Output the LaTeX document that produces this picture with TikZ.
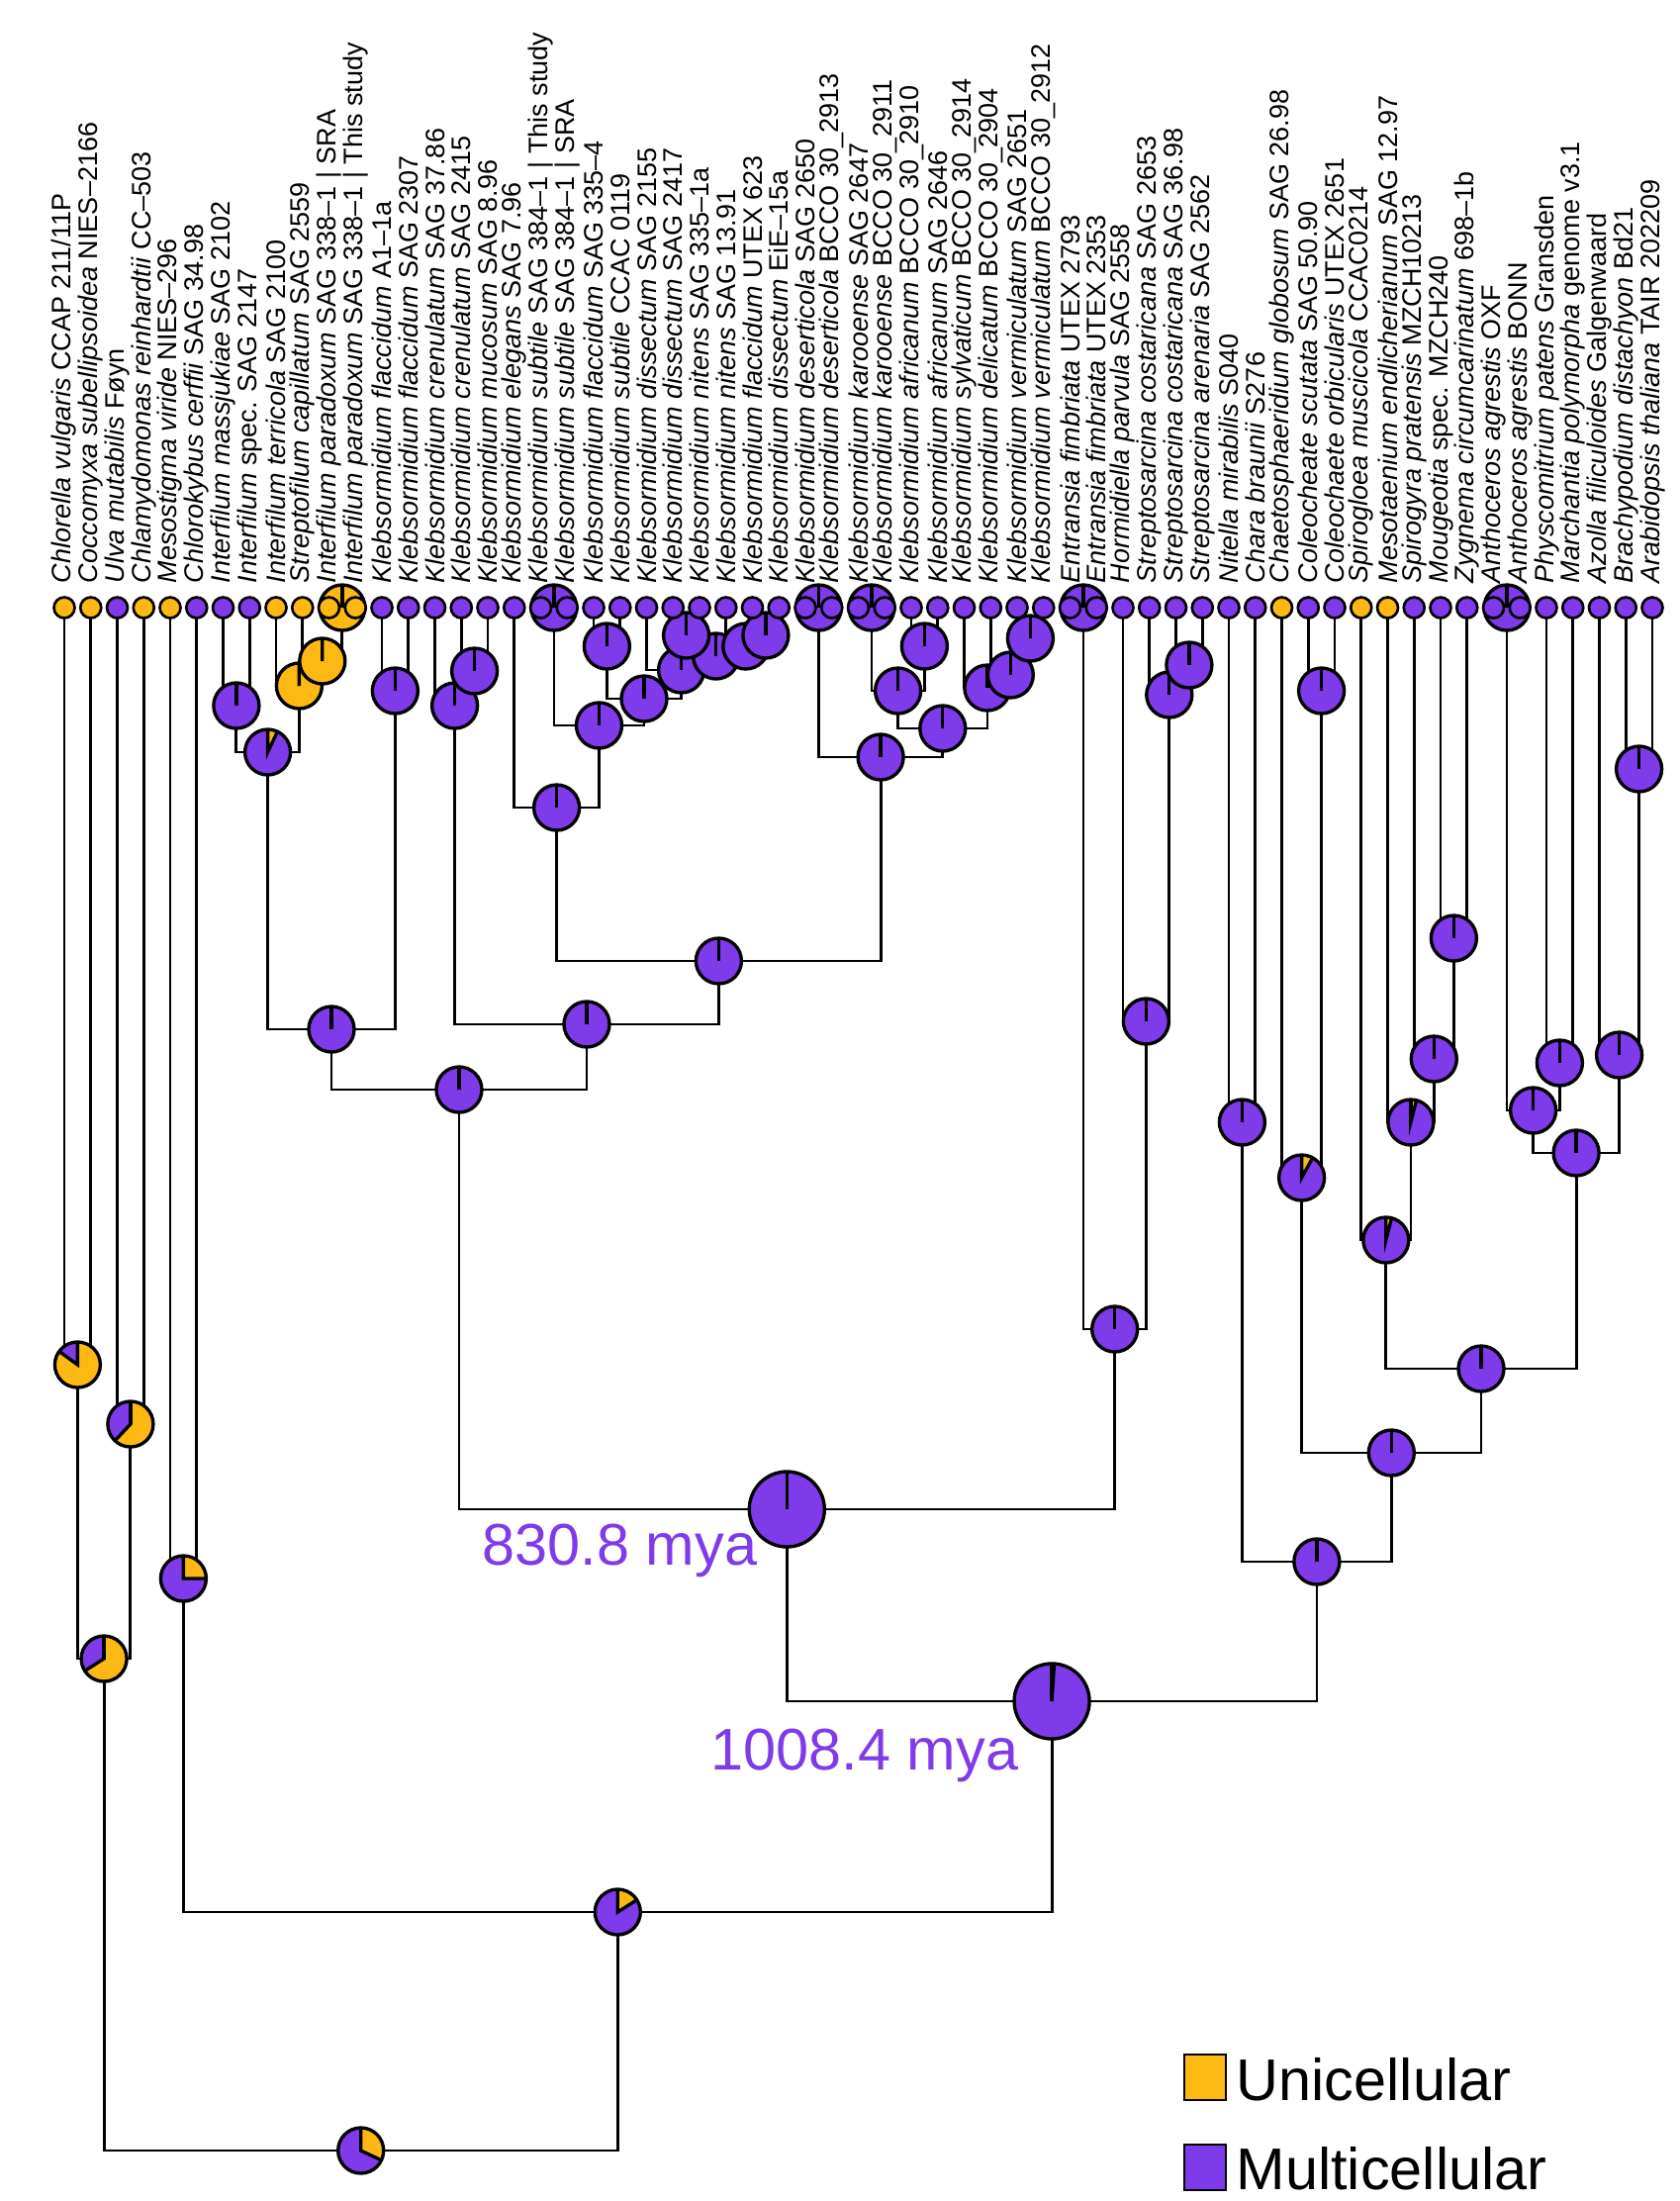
\documentclass[tikz,border=0pt]{standalone}
\usepackage{fontspec}
\setmainfont{Liberation Sans}
\usetikzlibrary{backgrounds}
\definecolor{uni}{RGB}{253,185,19}
\definecolor{multi}{RGB}{127,58,234}
\tikzstyle{tip}=[circle,draw,line width=0.75pt,minimum size=0.21cm,inner sep=0pt]
\tikzstyle{branch}=[draw,line width=0.8pt]
\tikzstyle{taxon}=[font=\fontsize{7.68pt}{9pt}\selectfont,rotate=90,anchor=west,inner sep=0pt]
\tikzstyle{age}=[font=\fontsize{16.9pt}{20pt}\selectfont,text=multi,inner sep=0pt]
\tikzstyle{legendkey}=[draw,line width=0.6pt,minimum width=0.42cm,minimum height=0.46cm,inner sep=0pt]
\tikzstyle{legendtext}=[font=\fontsize{16.9pt}{20pt}\selectfont,inner sep=0pt]
% yellow share of a pie, drawn clockwise from the top
\newcommand{\pieslice}[1]{%
  \ifdim#1pt>0pt
    \fill[uni,draw=black,line width=0.95pt] (path picture bounding box.center) -- ++(90:1cm)
      arc[start angle=90,delta angle={-360*#1},radius=1cm] -- cycle;
  \fi
  \draw[line width=0.95pt] (path picture bounding box.center) -- ++(90:1cm);
}
\tikzset{pie/.style={circle,draw,line width=0.95pt,fill=multi,minimum size=0.46cm,inner sep=0pt,path picture={\pieslice{#1}}}}

\begin{document}
\begin{tikzpicture}[x=0.01cm,y=0.01cm]

    \useasboundingbox (0,0) rectangle (1698,-2224);

    % ancestral states
    \node[pie=0.01, minimum size=0.76cm] (n1008) at (1063.1,-1719) {};
    \node[pie=0, minimum size=0.76cm] (n830) at (795.3,-1525) {};

    \foreach \name/\x/\y/\f in {root/364.7/2173/0.32, nD/105.1/1676/0.66, nA/78.4/1379/0.85, nB/131.9/1439/0.62,
        nX/624.3/1932/0.16, nC/185.4/1595/0.25,
        nKI/464/1101/0, nI/335/1040/0, nI1/270.6/760/0.07, nI78/238.9/713/0, nI9/302.4/693/1, nI10/325.8/668/1,
        nP1112/345.9/614/1, nK1314/399.4/698/0,
        nK/593/1035/0, nK15/459.6/713/0, nK1617/479.6/678/0, nKB/726.4/971/0, nK18/562.6/816/0, nK19/605.5/733/0,
        nP1920/559.9/614/0, nKE/651/706/0, nK2122/613.4/653/0, nKE2/688.6/677/0, nKE3/723.7/663/0,
        nK2425/693.6/642/0, nKE4/753.8/653/0, nK2728/773.9/642/0,
        nKC/890.1/765/0, nP2930/827.4/614/0, nKD/952.8/736/0, nKD1/907.6/698/0, nP3132/880.9/614/0,
        nK3334/934.4/653/0, nKD2/997.9/695/0, nKD3/1021.3/682/0, nK3738/1041.4/645/0,
        nEH/1126.7/1343/0, nP3940/1094.9/614/0, nH/1158.4/1032/0, nS/1181.8/702/0, nS4344/1201.9/672/0,
        nPh/1330.9/1578/0, nCh/1255.4/1134/0, nCZ/1406.3/1468/0, nCol/1315.6/1190/0.08, nCol4849/1335.6/698/0,
        nZL/1497/1383/0, nZ/1400.8/1253/0.04, nZ2/1425.9/1134/0.04, nZ3/1449.3/1070/0, nZ5354/1469.4/948/0,
        nLand/1593.1/1165/0, nL1/1549.6/1122/0, nP5556/1522.9/614/0, nL5758/1576.4/1074/0,
        nL2/1636.6/1066/0, nL6061/1656.6/777/0}
        \node[pie=\f] (\name) at (\x,-\y) {};

    % tips and their labels
    \foreach \i/\c/\lab in {
        1/uni/{\textit{Chlorella vulgaris} CCAP 211/11P},
        2/uni/{\textit{Coccomyxa subellipsoidea} NIES–2166},
        3/multi/{\textit{Ulva mutabilis} Føyn},
        4/uni/{\textit{Chlamydomonas reinhardtii} CC–503},
        5/uni/{\textit{Mesostigma viride} NIES–296},
        6/multi/{\textit{Chlorokybus cerffii} SAG 34.98},
        7/multi/{\textit{Interfilum massjukiae} SAG 2102},
        8/multi/{\textit{Interfilum} spec. SAG 2147},
        9/uni/{\textit{Interfilum terricola} SAG 2100},
        10/uni/{\textit{Streptofilum capillatum} SAG 2559},
        11/uni/{\textit{Interfilum paradoxum} SAG 338–1 | SRA},
        12/uni/{\textit{Interfilum paradoxum} SAG 338–1 | This study},
        13/multi/{\textit{Klebsormidium flaccidum} A1–1a},
        14/multi/{\textit{Klebsormidium flaccidum} SAG 2307},
        15/multi/{\textit{Klebsormidium crenulatum} SAG 37.86},
        16/multi/{\textit{Klebsormidium crenulatum} SAG 2415},
        17/multi/{\textit{Klebsormidium mucosum} SAG 8.96},
        18/multi/{\textit{Klebsormidium elegans} SAG 7.96},
        19/multi/{\textit{Klebsormidium subtile} SAG 384–1 | This study},
        20/multi/{\textit{Klebsormidium subtile} SAG 384–1 | SRA},
        21/multi/{\textit{Klebsormidium flaccidum} SAG 335–4},
        22/multi/{\textit{Klebsormidium subtile} CCAC 0119},
        23/multi/{\textit{Klebsormidium dissectum} SAG 2155},
        24/multi/{\textit{Klebsormidium dissectum} SAG 2417},
        25/multi/{\textit{Klebsormidium nitens} SAG 335–1a},
        26/multi/{\textit{Klebsormidium nitens} SAG 13.91},
        27/multi/{\textit{Klebsormidium flaccidum} UTEX 623},
        28/multi/{\textit{Klebsormidium dissectum} EiE–15a},
        29/multi/{\textit{Klebsormidium deserticola} SAG 2650},
        30/multi/{\textit{Klebsormidium deserticola} BCCO 30\_2913},
        31/multi/{\textit{Klebsormidium karooense} SAG 2647},
        32/multi/{\textit{Klebsormidium karooense} BCCO 30\_2911},
        33/multi/{\textit{Klebsormidium africanum} BCCO 30\_2910},
        34/multi/{\textit{Klebsormidium africanum} SAG 2646},
        35/multi/{\textit{Klebsormidium sylvaticum} BCCO 30\_2914},
        36/multi/{\textit{Klebsormidium delicatum} BCCO 30\_2904},
        37/multi/{\textit{Klebsormidium vermiculatum} SAG 2651},
        38/multi/{\textit{Klebsormidium vermiculatum} BCCO 30\_2912},
        39/multi/{\textit{Entransia fimbriata} UTEX 2793},
        40/multi/{\textit{Entransia fimbriata} UTEX 2353},
        41/multi/{\textit{Hormidiella parvula} SAG 2558},
        42/multi/{\textit{Streptosarcina costaricana} SAG 2653},
        43/multi/{\textit{Streptosarcina costaricana} SAG 36.98},
        44/multi/{\textit{Streptosarcina arenaria} SAG 2562},
        45/multi/{\textit{Nitella mirabilis} S040},
        46/multi/{\textit{Chara braunii} S276},
        47/uni/{\textit{Chaetosphaeridium globosum} SAG 26.98},
        48/multi/{\textit{Coleocheate scutata} SAG 50.90},
        49/multi/{\textit{Coleochaete orbicularis} UTEX 2651},
        50/uni/{\textit{Spirogloea muscicola} CCAC0214},
        51/uni/{\textit{Mesotaenium endlicherianum} SAG 12.97},
        52/multi/{\textit{Spirogyra pratensis} MZCH10213},
        53/multi/{\textit{Mougeotia} spec. MZCH240},
        54/multi/{\textit{Zygnema circumcarinatum} 698–1b},
        55/multi/{\textit{Anthoceros agrestis} OXF},
        56/multi/{\textit{Anthoceros agrestis} BONN},
        57/multi/{\textit{Physcomitrium patens} Gransden},
        58/multi/{\textit{Marchantia polymorpha} genome v3.1},
        59/multi/{\textit{Azolla filiculoides} Galgenwaard},
        60/multi/{\textit{Brachypodium distachyon} Bd21},
        61/multi/{\textit{Arabidopsis thaliana} TAIR 202209}}
    {
        \node[tip, fill=\c] (t\i) at ({65+(\i-1)*26.75},-614) {};
        \node[taxon] (l\i) at ([yshift=0.24cm]t\i.center) {\lab};
    }

    % branches: parent / left child / right child
    \begin{scope}[on background layer]
    \foreach \p/\l/\r in {nA/t1/t2, nB/t3/t4, nD/nA/nB, nC/t5/t6, root/nD/nX, nX/nC/n1008,
        n1008/n830/nPh, n830/nKI/nEH, nKI/nI/nK, nI/nI1/nK1314, nI1/nI78/nI9, nI78/t7/t8,
        nI9/t9/nI10, nI10/t10/nP1112, nP1112/t11/t12, nK1314/t13/t14,
        nK/nK15/nKB, nK15/t15/nK1617, nK1617/t16/t17, nKB/nK18/nKC, nK18/t18/nK19,
        nK19/nP1920/nKE, nP1920/t19/t20, nKE/nK2122/nKE2, nK2122/t21/t22, nKE2/t23/nKE3,
        nKE3/nK2425/nKE4, nK2425/t24/t25, nKE4/t26/nK2728, nK2728/t27/t28,
        nKC/nP2930/nKD, nP2930/t29/t30, nKD/nKD1/nKD2, nKD1/nP3132/nK3334, nP3132/t31/t32,
        nK3334/t33/t34, nKD2/t35/nKD3, nKD3/t36/nK3738, nK3738/t37/t38,
        nEH/nP3940/nH, nP3940/t39/t40, nH/t41/nS, nS/t42/nS4344, nS4344/t43/t44,
        nPh/nCh/nCZ, nCh/t45/t46, nCZ/nCol/nZL, nCol/t47/nCol4849, nCol4849/t48/t49,
        nZL/nZ/nLand, nZ/t50/nZ2, nZ2/t51/nZ3, nZ3/t52/nZ5354, nZ5354/t53/t54,
        nLand/nL1/nL2, nL1/nP5556/nL5758, nP5556/t55/t56, nL5758/t57/t58,
        nL2/t59/nL6061, nL6061/t60/t61}
        \draw[branch] (\l.center) |- (\p.center) -| (\r.center);
    \end{scope}

    % divergence times
    \node[age, anchor=base east] (age830) at (766,-1581) {830.8 mya};
    \node[age, anchor=base east] (age1008) at (1030,-1788) {1008.4 mya};

    % legend
    \node[legendkey, fill=uni] (keyuni) at (1218,-2099) {};
    \node[legendtext, anchor=base west] (txtuni) at (1249,-2122) {Unicellular};
    \node[legendkey, fill=multi] (keymulti) at (1218,-2190) {};
    \node[legendtext, anchor=base west] (txtmulti) at (1249,-2212) {Multicellular};

\end{tikzpicture}
\end{document}
